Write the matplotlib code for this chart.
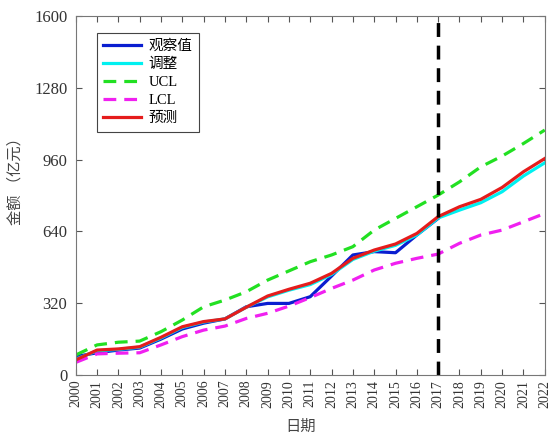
import numpy as np
import matplotlib.pyplot as plt

plt.rcParams['font.family'] = ['Liberation Serif', 'Noto Sans CJK SC']

# data
years = list(range(2000, 2023))
observed = [82, 99, 111, 120, 160, 205, 231, 250, 304, 319, 319, 349, 441, 535, 550, 545, 624, 698]
adjusted = [70, 108, 114, 124, 165, 212, 236, 250, 302, 348, 378, 403, 448, 515, 552, 578, 624, 700,
            735, 768, 817, 887, 946]
ucl = [89, 134, 146, 151, 193, 245, 304, 334, 371, 423, 464, 505, 535, 572, 646, 698, 750, 802,
       861, 928, 976, 1032, 1092]
lcl = [56, 94, 97, 99, 134, 171, 200, 218, 252, 275, 307, 345, 386, 423, 468, 498, 520, 539,
       587, 624, 646, 683, 720]
forecast = [67, 111, 116, 126, 168, 215, 238, 250, 302, 352, 382, 409, 453, 520, 557, 584, 631, 706,
            750, 783, 836, 906, 965]
split_year = 2017

fig = plt.figure(figsize=(5.57, 4.36), dpi=100)
ax = fig.add_axes([0.136, 0.140, 0.842, 0.823])

lw = 2.3
ax.plot(years[:len(observed)], observed, color='#0a1ed0', lw=lw, label='观察值')
ax.plot(years, adjusted, color='#00f0f0', lw=lw, label='调整')
ax.plot(years, ucl, color='#22e022', lw=lw, ls=(0, (4, 2.5)), label='UCL')
ax.plot(years, lcl, color='#f020f0', lw=lw, ls=(0, (4, 2.5)), label='LCL')
ax.plot(years, forecast, color='#e51c1c', lw=lw, label='预测')
ax.axvline(split_year, color='black', lw=2.5, ls=(0, (4, 2.5)))

ax.set_xlim(2000, 2022)
ax.set_ylim(0, 1600)
ax.set_xticks(years)
ax.set_xticklabels([str(y) for y in years], rotation=90, fontsize=10, color='#333333')
ax.set_yticks([0, 320, 640, 960, 1280, 1600])
ax.tick_params(axis='y', labelsize=12, labelcolor='#333333', pad=6)
ax.tick_params(direction='in', top=True, right=True, length=4, color='#555555')
for sp in ax.spines.values():
    sp.set_color('#777777')

ax.set_xlabel('日期', fontsize=11, color='#444444', labelpad=1,
              family=['Noto Sans CJK SC', 'Liberation Serif'])
ax.xaxis.set_label_coords(0.48, -0.12)
ax.set_ylabel('金额 （亿元）', fontsize=11, color='#444444',
              family=['Noto Sans CJK SC', 'Liberation Serif'])
ax.yaxis.set_label_coords(-0.112, 0.55)

leg = ax.legend(loc='upper left', bbox_to_anchor=(0.045, 0.953), borderaxespad=0,
                fancybox=False, framealpha=1, edgecolor='#444444',
                handlelength=2.6, borderpad=0.45, labelspacing=0.33, handletextpad=0.5,
                prop={'family': ['Liberation Serif', 'Noto Sans CJK SC'], 'size': 10.5})
leg.get_frame().set_linewidth(0.8)

fig.savefig('out.png', dpi=100)
